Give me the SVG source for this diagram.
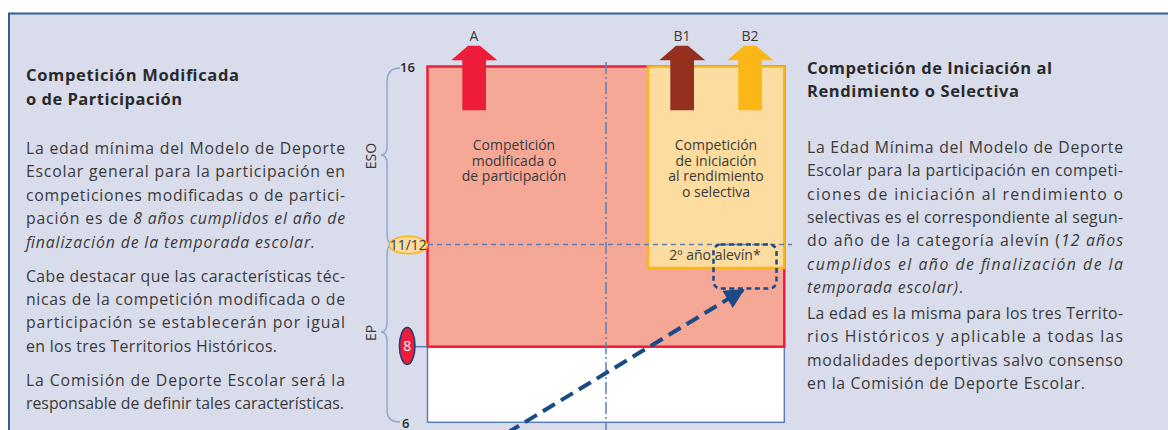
<svg xmlns="http://www.w3.org/2000/svg" width="1168" height="430" viewBox="0 0 1168 430">
<defs>
<style>
.body{font-family:"Open Sans","Liberation Sans",sans-serif;font-size:15.8px;fill:#3a3a3a}
.head{font-family:"Open Sans","Liberation Sans",sans-serif;font-size:16.5px;font-weight:bold;fill:#2a2a2a}
.it{font-style:italic}
.lbl{font-family:"Open Sans","Liberation Sans",sans-serif;font-size:14px;fill:#3a3a3a;text-anchor:middle}
.num{font-family:"Open Sans","Liberation Sans",sans-serif;font-size:13px;font-weight:600;fill:#2a2a2a}
.brace{fill:none;stroke:#91a6d0;stroke-width:1.5}
.grid{fill:none;stroke:#5b7fba;stroke-width:1.5}
</style>
<marker id="ah" viewBox="0 0 10 10" refX="9" refY="5" markerWidth="6" markerHeight="5" markerUnits="strokeWidth" orient="auto">
<path d="M0,0 L10,5 L0,10 z" fill="#1b4a86"/>
</marker>
</defs>
<rect x="0" y="0" width="1168" height="430" fill="#ffffff"/>
<rect x="9" y="14" width="1159" height="416" fill="#d9dcea"/>
<line x1="8" y1="13.5" x2="1168" y2="13.5" stroke="#2e5e9e" stroke-width="2"/>
<line x1="9" y1="13" x2="9" y2="430" stroke="#2e5e9e" stroke-width="2"/>

<g id="left-text">
<text class="head" x="26" y="81" textLength="213" lengthAdjust="spacing">Competición Modificada</text>
<text class="head" x="26" y="105" textLength="156" lengthAdjust="spacing">o de Participación</text>
<text class="body" x="26" y="154" textLength="319" lengthAdjust="spacing">La edad mínima del Modelo de Deporte</text>
<text class="body" x="26" y="177.4" textLength="319" lengthAdjust="spacing">Escolar general para la participación en</text>
<text class="body" x="26" y="200.8" textLength="319" lengthAdjust="spacing">competiciones modificadas o de partici-</text>
<text class="body" x="26" y="224.2" textLength="319" lengthAdjust="spacing">pación es de <tspan class="it">8 años cumplidos el año de</tspan></text>
<text class="body it" x="26" y="247.6" textLength="289" lengthAdjust="spacing">finalización de la temporada escolar.</text>
<text class="body" x="26" y="281.6" textLength="319" lengthAdjust="spacing">Cabe destacar que las características téc-</text>
<text class="body" x="26" y="305" textLength="319" lengthAdjust="spacing">nicas de la competición modificada o de</text>
<text class="body" x="26" y="328.4" textLength="319" lengthAdjust="spacing">participación se establecerán por igual</text>
<text class="body" x="26" y="351.8" textLength="251" lengthAdjust="spacing">en los tres Territorios Históricos.</text>
<text class="body" x="26" y="385.6" textLength="319" lengthAdjust="spacing">La Comisión de Deporte Escolar será la</text>
<text class="body" x="26" y="409" textLength="318" lengthAdjust="spacing">responsable de definir tales características.</text>
</g>

<g id="right-text">
<text class="head" x="807" y="74" textLength="245" lengthAdjust="spacing">Competición de Iniciación al</text>
<text class="head" x="807" y="97" textLength="212" lengthAdjust="spacing">Rendimiento o Selectiva</text>
<text class="body" x="807" y="153" textLength="316" lengthAdjust="spacing">La Edad Mínima del Modelo de Deporte</text>
<text class="body" x="807" y="176.3" textLength="316" lengthAdjust="spacing">Escolar para la participación en competi-</text>
<text class="body" x="807" y="199.6" textLength="316" lengthAdjust="spacing">ciones de iniciación al rendimiento o</text>
<text class="body" x="807" y="222.9" textLength="316" lengthAdjust="spacing">selectivas es el correspondiente al segun-</text>
<text class="body" x="807" y="246.2" textLength="316" lengthAdjust="spacing">do año de la categoría alevín (<tspan class="it">12 años</tspan></text>
<text class="body it" x="807" y="269.5" textLength="316" lengthAdjust="spacing">cumplidos el año de finalización de la</text>
<text class="body" x="807" y="292.8" textLength="156" lengthAdjust="spacing"><tspan class="it">temporada escolar)</tspan>.</text>
<text class="body" x="807" y="319" textLength="316" lengthAdjust="spacing">La edad es la misma para los tres Territo-</text>
<text class="body" x="807" y="342.3" textLength="316" lengthAdjust="spacing">rios Históricos y aplicable a todas las</text>
<text class="body" x="807" y="365.6" textLength="316" lengthAdjust="spacing">modalidades deportivas salvo consenso</text>
<text class="body" x="807" y="388.9" textLength="278" lengthAdjust="spacing">en la Comisión de Deporte Escolar.</text>
</g>

<g id="chart-areas">
<rect id="white-area" x="427.5" y="346.7" width="356.8" height="75.6" fill="#ffffff" stroke="#5b7fba" stroke-width="1.5"/>
<rect id="red-area" x="427.5" y="66.5" width="356.8" height="280.2" fill="#f6a897" stroke="#ed1c39" stroke-width="2.5"/>
<rect id="yellow-area" x="648" y="66.5" width="136.3" height="201.5" fill="#fddc9f" stroke="#fbb515" stroke-width="2.5"/>
</g>

<g id="gridlines">
<line class="grid" x1="606" y1="62" x2="606" y2="430" stroke-dasharray="12 3 2 3"/>
<line class="grid" x1="428" y1="244.5" x2="792" y2="244.5" stroke-dasharray="5 4"/>
<line class="grid" x1="415" y1="346.7" x2="427.5" y2="346.7"/>
</g>

<g id="labels-chart">
<text class="lbl" x="514" y="150">Competición</text>
<text class="lbl" x="514" y="165.7">modificada o</text>
<text class="lbl" x="514" y="181.4">de participación</text>
<text class="lbl" x="716" y="150">Competición</text>
<text class="lbl" x="716" y="165.7">de iniciación</text>
<text class="lbl" x="716" y="181.4">al rendimiento</text>
<text class="lbl" x="716" y="197.1">o selectiva</text>
<text class="lbl" x="715" y="260">2º año alevín*</text>
</g>

<g id="arrow-A">
<polygon points="468,45.7 480,45.7 497.3,60.3 486,60.3 486,110.3 462.3,110.3 462.3,60.3 451.3,60.3" fill="#ed1c39"/>
<text class="lbl" x="474" y="41">A</text>
</g>
<g id="arrow-B1">
<polygon points="676,45.7 688,45.7 705.3,60.3 694,60.3 694,110.3 670.3,110.3 670.3,60.3 659.3,60.3" fill="#952f1e"/>
<text class="lbl" x="682" y="41">B1</text>
</g>
<g id="arrow-B2">
<polygon points="744,45.7 756,45.7 773.3,60.3 762,60.3 762,110.3 738.3,110.3 738.3,60.3 727.3,60.3" fill="#fbb617"/>
<text class="lbl" x="750" y="41">B2</text>
</g>

<g id="axis">
<path class="brace" d="M400,68 Q387,68 387,82 L387,146 Q387,155 381,155 Q387,155 387,164 L387,232 Q387,244 392,244"/>
<path class="brace" d="M392,244 Q387,244 387,256 L387,323 Q387,332 381,332 Q387,332 387,341 L387,410 Q387,422 400,422"/>
<text class="num" x="400" y="72">16</text>
<text class="num" x="402" y="428">6</text>
<text class="lbl" transform="translate(376,156) rotate(-90)">ESO</text>
<text class="lbl" transform="translate(376,333) rotate(-90)">EP</text>
</g>

<g id="marker-1112">
<ellipse cx="408.3" cy="245" rx="19" ry="8.7" fill="#fddc9f" stroke="#fbb515" stroke-width="1.5"/>
<text class="lbl" x="408.3" y="250" style="font-size:14px">11/12</text>
</g>
<g id="marker-8">
<ellipse cx="407.2" cy="346" rx="7.8" ry="18.5" fill="#ed1c39" stroke="#1f3c7a" stroke-width="1.5"/>
<text class="lbl" x="407.2" y="351" style="fill:#ffffff">8</text>
</g>

<g id="connectors">
<rect x="713.5" y="244.5" width="63" height="44" rx="7" fill="none" stroke="#1b4a86" stroke-width="2.5" stroke-dasharray="5 3.5"/>
<line x1="507" y1="433" x2="743" y2="290" stroke="#1b4a86" stroke-width="4" stroke-dasharray="14 7" marker-end="url(#ah)"/>
</g>
</svg>
